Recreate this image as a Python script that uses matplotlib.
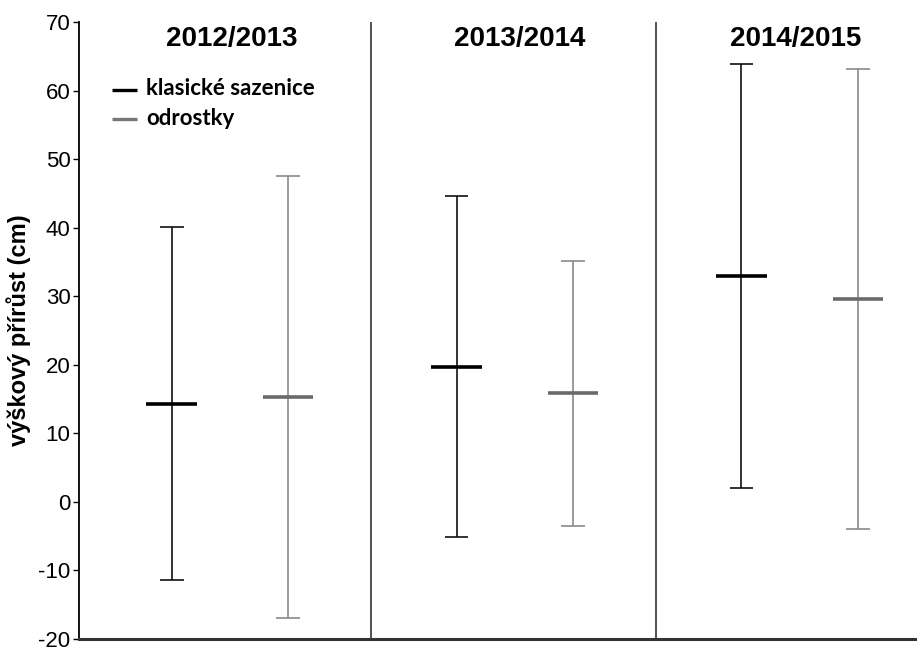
import matplotlib
matplotlib.use("Agg")
import matplotlib.pyplot as plt
import numpy as np

# seasons and the two planting types
seasons = ["2012/2013", "2013/2014", "2014/2015"]

# klasicke sazenice: mean, min, max
klas_mean = [14.3, 19.7, 32.9]
klas_low = [-11.4, -5.1, 2.0]
klas_high = [40.1, 44.6, 63.8]

# odrostky: mean, min, max
odr_mean = [15.3, 15.9, 29.6]
odr_low = [-16.9, -3.5, -4.0]
odr_high = [47.5, 35.1, 63.1]

yticks = [-20, -10, 0, 10, 20, 30, 40, 50, 60, 70]

fig = plt.figure(figsize=(9.17, 6.48), dpi=100)
ax = fig.add_axes([0.0861, 0.0139, 0.9139, 0.9522])

centers = np.arange(1, len(seasons) + 1)
cap = 0.042
half = 0.088

def draw_group(x, mean, low, high, line_col, mean_col):
    ax.vlines(x, low, high, color=line_col, lw=1.2, zorder=3)
    ax.hlines(low, x - cap, x + cap, color=line_col, lw=1.2, zorder=3)
    ax.hlines(high, x - cap, x + cap, color=line_col, lw=1.2, zorder=3)
    ax.hlines(mean, x - half, x + half, color=mean_col, lw=2.6, zorder=4)

draw_group(centers - 0.2, klas_mean, klas_low, klas_high, "#111111", "#000000")
draw_group(centers + 0.21, odr_mean, odr_low, odr_high, "#8a8a8a", "#6a6a6a")

# season separators
for s in centers[:-1] + 0.5:
    ax.vlines(s, -20, 70, color="#333333", lw=1.2, zorder=2)

title_shift = [0.01, 0.023, -0.01]
for c, dx, lab in zip(centers, title_shift, seasons):
    ax.text(c + dx, 67.5, lab, ha="center", va="center", fontsize=20,
            fontweight="bold", family="Liberation Sans")

# legend drawn by hand in the first panel
ax.plot([0.591, 0.679], [60.1, 60.1], color="#000000", lw=2.4, solid_capstyle="butt")
ax.plot([0.591, 0.679], [55.9, 55.9], color="#777777", lw=2.4, solid_capstyle="butt")
ax.text(0.710, 60.3, "klasické sazenice", ha="left", va="center", fontsize=16,
        fontweight="bold", family="Lato")
ax.text(0.710, 55.9, "odrostky", ha="left", va="center", fontsize=16,
        fontweight="bold", family="Lato")

ax.set_xlim(0.475, 3.416)
ax.set_ylim(-20, 70)
ax.set_yticks(yticks)
ax.set_yticklabels([str(t) for t in yticks], family="Liberation Sans", fontsize=16)
ax.set_xticks([])
ax.tick_params(axis="y", direction="out", length=4, width=1, pad=2)

ax.spines["top"].set_visible(False)
ax.spines["right"].set_visible(False)
ax.spines["left"].set_linewidth(1.3)
ax.spines["bottom"].set_linewidth(2.2)
ax.spines["bottom"].set_color("#333333")

ax.set_ylabel("výškový přírůst (cm)", fontsize=17, fontweight="bold",
              family="Liberation Sans", labelpad=5)

fig.savefig("out.png", dpi=100)
